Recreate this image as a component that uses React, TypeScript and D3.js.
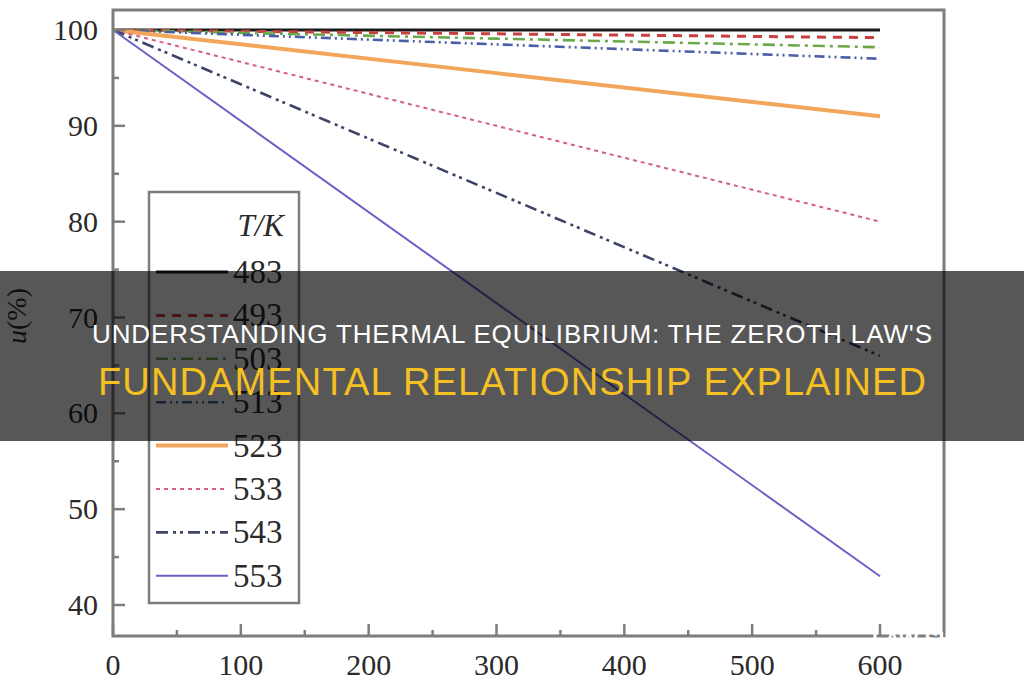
import React from "react";
import * as d3 from "d3";

// ---- data ----
const timeMin = [0, 300, 600];
const temperatures = ["483", "493", "503", "513", "523", "533", "543", "553"];
const u483 = [100, 100, 100];
const u493 = [100, 99.6, 99.2];
const u503 = [100, 99.1, 98.2];
const u513 = [100, 98.5, 97.0];
const u523 = [100, 95.5, 91.0];
const u533 = [100, 90.0, 80.0];
const u543 = [100, 83.0, 66.0];
const u553 = [100, 71.5, 43.0];
const seriesValues = [u483, u493, u503, u513, u523, u533, u543, u553];
const xTicks = [0, 100, 200, 300, 400, 500, 600];
const xMinorTicks = [50, 150, 250, 350, 450, 550];
const yTicks = [40, 50, 60, 70, 80, 90, 100];
const yMinorTicks = [45, 55, 65, 75, 85, 95];
const titleLine1 = "UNDERSTANDING THERMAL EQUILIBRIUM: THE ZEROTH LAW'S";
const titleLine2 = "FUNDAMENTAL RELATIONSHIP EXPLAINED";

// ---- styles ----
const seriesStyle = [
  { color: "#1a1a1a", width: 3.2, dash: "" },
  { color: "#c8403f", width: 3, dash: "9,7" },
  { color: "#6aa84a", width: 2.6, dash: "12,5,3,5" },
  { color: "#4a5fa8", width: 2.6, dash: "10,4,2,4,2,4" },
  { color: "#f2a65a", width: 4, dash: "" },
  { color: "#d45f86", width: 2, dash: "4,4" },
  { color: "#3d4466", width: 2.6, dash: "12,5,3,4,3,5" },
  { color: "#6a62c4", width: 2, dash: "" },
];

const W = 1024;
const H = 680;
const frame = { left: 113, right: 944, top: 10, bottom: 636 };
const serif = "'Liberation Serif', 'Times New Roman', serif";
const sans = "'Liberation Sans', Arial, sans-serif";

export default function App() {
  const x = d3.scaleLinear().domain([0, 600]).range([113, 880]);
  const y = d3.scaleLinear().domain([40, 100]).range([605, 30]);
  const line = d3
    .line<number>()
    .x((_, i) => x(timeMin[i]))
    .y((d) => y(d));

  const axisColor = "#7d7d7d";
  const legendX0 = 156;
  const legendX1 = 228;
  const legendY0 = 272;
  const legendStep = 43.4;

  return (
    <svg
      width={W}
      height={H}
      style={{ position: "absolute", left: 0, top: 0, background: "#fff" }}
    >
      <rect x={0} y={0} width={W} height={H} fill="#fff" />
      {/* series */}
      {seriesValues.map((vals, i) => (
        <path
          key={temperatures[i]}
          d={line(vals) || ""}
          fill="none"
          stroke={seriesStyle[i].color}
          strokeWidth={seriesStyle[i].width}
          strokeDasharray={seriesStyle[i].dash}
        />
      ))}
      {/* frame */}
      <rect
        x={frame.left}
        y={frame.top}
        width={frame.right - frame.left}
        height={frame.bottom - frame.top}
        fill="none"
        stroke={axisColor}
        strokeWidth={3}
      />
      {/* y ticks */}
      {yTicks.map((t) => (
        <g key={"y" + t}>
          <line x1={frame.left} x2={frame.left + 12} y1={y(t)} y2={y(t)} stroke={axisColor} strokeWidth={2.5} />
          <text
            x={frame.left - 15}
            y={y(t) + 10}
            textAnchor="end"
            fontFamily={serif}
            fontSize={30}
            fill="#2a2a2a"
          >
            {t}
          </text>
        </g>
      ))}
      {yMinorTicks.map((t) => (
        <line key={"ym" + t} x1={frame.left} x2={frame.left + 6} y1={y(t)} y2={y(t)} stroke={axisColor} strokeWidth={2.5} />
      ))}
      {/* x ticks */}
      {xTicks.map((t) => (
        <g key={"x" + t}>
          <line x1={x(t)} x2={x(t)} y1={frame.bottom} y2={frame.bottom - 12} stroke={axisColor} strokeWidth={2.5} />
          <text x={x(t)} y={675} textAnchor="middle" fontFamily={serif} fontSize={30} fill="#2a2a2a">
            {t}
          </text>
        </g>
      ))}
      {xMinorTicks.map((t) => (
        <line key={"xm" + t} x1={x(t)} x2={x(t)} y1={frame.bottom} y2={frame.bottom - 6} stroke={axisColor} strokeWidth={2.5} />
      ))}
      {/* y axis label */}
      <text
        transform="translate(26,316) rotate(-90)"
        textAnchor="middle"
        fontFamily={serif}
        fontSize={28}
        fill="#2a2a2a"
      >
        <tspan fontStyle="italic">u</tspan>
        <tspan>(%)</tspan>
      </text>
      {/* legend */}
      <rect x={149} y={192} width={150} height={411} fill="#fff" stroke={axisColor} strokeWidth={2.5} />
      <text x={284} y={236} textAnchor="end" fontFamily={serif} fontSize={31} fontStyle="italic" fill="#2a2a2a">
        T/K
      </text>
      {temperatures.map((tk, i) => (
        <g key={"lg" + tk}>
          <line
            x1={legendX0}
            x2={legendX1}
            y1={legendY0 + i * legendStep}
            y2={legendY0 + i * legendStep}
            stroke={seriesStyle[i].color}
            strokeWidth={seriesStyle[i].width}
            strokeDasharray={seriesStyle[i].dash}
          />
          <text
            x={233}
            y={legendY0 + i * legendStep + 11}
            fontFamily={serif}
            fontSize={33}
            fill="#2a2a2a"
          >
            {tk}
          </text>
        </g>
      ))}
      {/* watermark */}
      <text x={872} y={646} fontFamily={sans} fontWeight="bold" fontSize={21} fill="#ffffff">
        LAW SHUN
      </text>
      {/* title banner */}
      <rect x={0} y={271} width={W} height={170} fill="rgba(0,0,0,0.66)" />
      <text
        x={512}
        y={343}
        textAnchor="middle"
        fontFamily={sans}
        fontSize={26}
        fill="#ffffff"
        textLength={840}
      >
        {titleLine1}
      </text>
      <text
        x={512}
        y={395}
        textAnchor="middle"
        fontFamily={sans}
        fontSize={38}
        fill="#f5c022"
        textLength={828}
      >
        {titleLine2}
      </text>
    </svg>
  );
}
